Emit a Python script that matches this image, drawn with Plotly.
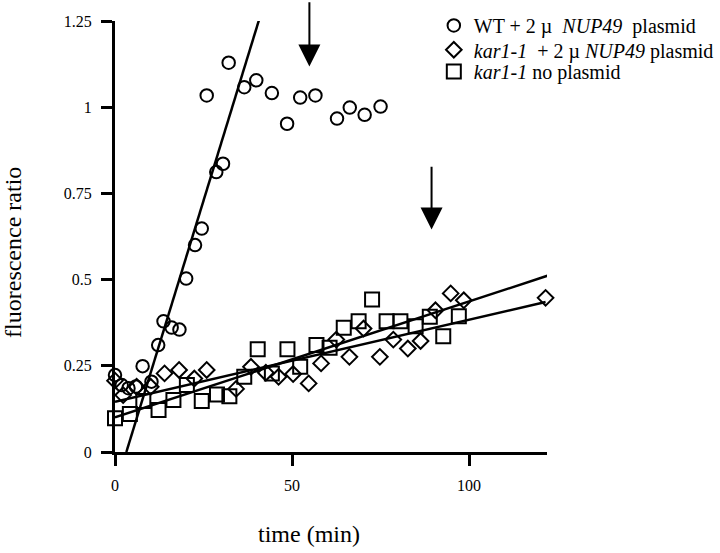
import plotly.graph_objects as go

# ---- data ----
wt_t = [0, 1.9, 3.8, 5.9, 7.8, 10.3, 12.2, 13.7, 16.0, 18.2, 20.1, 22.6, 24.5, 25.9,
        28.6, 30.5, 32.1, 36.5, 39.9, 44.3, 48.6, 52.3, 56.6, 62.7, 66.3, 70.5, 75.0]
wt_v = [0.223, 0.194, 0.185, 0.190, 0.249, 0.204, 0.310, 0.379, 0.361, 0.355, 0.503, 0.600,
        0.648, 1.034, 0.812, 0.836, 1.129, 1.058, 1.078, 1.041, 0.952, 1.028, 1.034,
        0.967, 0.999, 0.978, 1.002]

kar_nup_t = [0, 2.3, 6.1, 10.1, 14.0, 18.1, 22.4, 25.9, 34.2, 38.4, 42.6, 46.2, 50.3,
             54.7, 58.2, 62.5, 66.2, 70.2, 74.8, 78.6, 82.7, 86.3, 90.5, 94.8, 98.5, 121.6]
kar_nup_v = [0.207, 0.165, 0.189, 0.189, 0.228, 0.238, 0.213, 0.238, 0.183, 0.247, 0.230,
             0.218, 0.226, 0.199, 0.257, 0.326, 0.276, 0.358, 0.276, 0.326, 0.300, 0.322,
             0.411, 0.460, 0.440, 0.447]

kar_t = [0, 4.2, 8.0, 12.3, 16.5, 20.3, 24.5, 28.8, 32.3, 36.5, 40.3, 44.3, 48.7, 52.3,
         56.9, 60.6, 64.6, 68.8, 72.6, 76.7, 80.6, 84.9, 88.9, 92.7, 97.1]
kar_v = [0.098, 0.110, 0.148, 0.122, 0.151, 0.194, 0.148, 0.167, 0.162, 0.218, 0.298,
         0.228, 0.298, 0.247, 0.310, 0.302, 0.360, 0.379, 0.442, 0.379, 0.379, 0.365,
         0.392, 0.336, 0.394]

# fitted lines (end points)
wt_fit_t = [3.2, 40.7]
wt_fit_v = [0.0, 1.254]
kar_nup_fit_t = [0, 121.6]
kar_nup_fit_v = [0.146, 0.435]
kar_fit_t = [0, 122.1]
kar_fit_v = [0.1005, 0.511]

# arrows: (time, tail value, tip value)
arrow_t = [54.9, 89.4]
arrow_tail = [1.309, 0.832]
arrow_tip = [1.118, 0.645]

x_ticks = [0, 50, 100]
y_ticks = [0, 0.25, 0.5, 0.75, 1, 1.25]
y_ticktext = ["0", "0.25", "0.5", "0.75", "1", "1.25"]

legend_names = [
    "WT + 2 \u00b5  <i>NUP49</i>  plasmid",
    "<i>kar1-1</i>  + 2 \u00b5 <i>NUP49</i> plasmid",
    "<i>kar1-1</i> no plasmid",
]

FONT = "Liberation Serif"

fig = go.Figure()

line_style = dict(color="black", width=2.5)
for ft, fv in [(wt_fit_t, wt_fit_v), (kar_nup_fit_t, kar_nup_fit_v), (kar_fit_t, kar_fit_v)]:
    fig.add_trace(go.Scatter(x=ft, y=fv, mode="lines", line=line_style,
                             showlegend=False, hoverinfo="skip"))

fig.add_trace(go.Scatter(x=wt_t, y=wt_v, mode="markers", name=legend_names[0],
                         marker=dict(symbol="circle-open", size=12.5, color="black",
                                     line=dict(width=2, color="black")),
                         cliponaxis=False, legend="legend"))
fig.add_trace(go.Scatter(x=kar_nup_t, y=kar_nup_v, mode="markers", name=legend_names[1],
                         marker=dict(symbol="diamond-open", size=12, color="black",
                                     line=dict(width=2, color="black")),
                         cliponaxis=False, legend="legend2"))
fig.add_trace(go.Scatter(x=kar_t, y=kar_v, mode="markers", name=legend_names[2],
                         marker=dict(symbol="square-open", size=14, color="black",
                                     line=dict(width=2, color="black")),
                         cliponaxis=False, legend="legend3"))

for at, a0, a1 in zip(arrow_t, arrow_tail, arrow_tip):
    fig.add_annotation(x=at, y=a1, ax=at, ay=a0, xref="x", yref="y", axref="x", ayref="y",
                       text="", showarrow=True, arrowhead=2, arrowsize=2.2, arrowwidth=2,
                       arrowcolor="black", standoff=0)

fig.add_annotation(text="time (min)", xref="paper", yref="paper", x=0.45, y=-0.19,
                   showarrow=False, font=dict(family=FONT, size=24, color="black"),
                   xanchor="center", yanchor="middle")
fig.add_annotation(text="fluorescence ratio", xref="paper", yref="paper", x=-0.236, y=0.462,
                   showarrow=False, textangle=-90,
                   font=dict(family=FONT, size=24, color="black"),
                   xanchor="center", yanchor="middle")

axis_common = dict(showline=True, linecolor="black", linewidth=3, showgrid=False,
                   zeroline=False, ticks="outside", ticklen=11, tickwidth=2.5,
                   tickcolor="black", automargin=False,
                   tickfont=dict(family=FONT, size=16, color="black"))

fig.update_xaxes(range=[0, 122], tickvals=x_ticks, ticktext=[str(v) for v in x_ticks],
                 ticklabelstandoff=6, **axis_common)
fig.update_yaxes(range=[0, 1.25], tickvals=y_ticks, ticktext=y_ticktext,
                 ticklabelstandoff=6, **axis_common)

legend_common = dict(x=0.738, xanchor="left", yanchor="middle",
                     font=dict(family=FONT, size=20, color="black"),
                     bgcolor="rgba(0,0,0,0)")

fig.update_layout(
    width=720, height=553,
    margin=dict(l=115, r=173, t=20.5, b=101, autoexpand=False),
    plot_bgcolor="white", paper_bgcolor="white",
    font=dict(family=FONT, color="black"),
    legend=dict(y=0.9896, **legend_common),
    legend2=dict(y=0.9333, **legend_common),
    legend3=dict(y=0.883, **legend_common),
)

# remove the default 8px page margin so the figure fills the window exactly
fig.write_html("out.html",
               config={"displayModeBar": False},
               post_script="document.body.style.margin='0';document.body.style.overflow='hidden';")
